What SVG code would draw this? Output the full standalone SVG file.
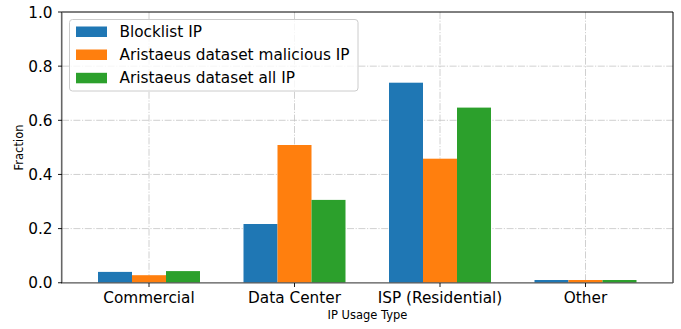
<svg xmlns="http://www.w3.org/2000/svg" width="681" height="329" viewBox="0 0 681 329">
<style>
text{font-family:"DejaVu Sans","Liberation Sans",sans-serif;fill:#000}
.tick{font-size:15.3px}
.lab{font-size:11.5px}
.grid{stroke:#c4c4c4;stroke-width:0.8;stroke-dasharray:7,1.6,1.2,1.6;fill:none}
.tk{stroke:#000;stroke-width:0.9}
.b{fill:#1f77b4}.o{fill:#ff7f0e}.g{fill:#2ca02c}
</style>
<rect width="681" height="329" fill="#fff"/>
<g id="grid">
<line class="grid" x1="149" y1="12" x2="149" y2="283"/>
<line class="grid" x1="294.5" y1="12" x2="294.5" y2="283"/>
<line class="grid" x1="440" y1="12" x2="440" y2="283"/>
<line class="grid" x1="585.5" y1="12" x2="585.5" y2="283"/>
<line class="grid" x1="62" y1="228.6" x2="673" y2="228.6"/>
<line class="grid" x1="62" y1="174.45" x2="673" y2="174.45"/>
<line class="grid" x1="62" y1="120.3" x2="673" y2="120.3"/>
<line class="grid" x1="62" y1="66.15" x2="673" y2="66.15"/>
</g>
<g id="bars">
<g id="commercial">
<rect class="b" x="98" y="271.9" width="34" height="10.85"/>
<rect class="o" x="132" y="275.2" width="34" height="7.55"/>
<rect class="g" x="166" y="271.1" width="34" height="11.65"/>
</g>
<g id="datacenter">
<rect class="b" x="243.5" y="224" width="34" height="58.75"/>
<rect class="o" x="277.5" y="145" width="34" height="137.75"/>
<rect class="g" x="311.5" y="199.9" width="34" height="82.85"/>
</g>
<g id="isp">
<rect class="b" x="389" y="82.7" width="34" height="200.05"/>
<rect class="o" x="423" y="158.7" width="34" height="124.05"/>
<rect class="g" x="457" y="107.6" width="34" height="175.15"/>
</g>
<g id="other">
<rect class="b" x="534.5" y="280" width="34" height="2.75"/>
<rect class="o" x="568.5" y="280" width="34" height="2.75"/>
<rect class="g" x="602.5" y="280" width="34" height="2.75"/>
</g>
</g>
<g id="axes">
<line x1="62" y1="12" x2="673" y2="12" stroke="#000" stroke-width="1"/>
<line x1="673" y1="12" x2="673" y2="283" stroke="#000" stroke-width="1"/>
<line x1="61.7" y1="12" x2="61.7" y2="283" stroke="#666" stroke-width="1.6"/>
<line x1="61" y1="282.9" x2="673" y2="282.9" stroke="#555" stroke-width="1.4"/>
<line class="tk" x1="58" y1="282.75" x2="62" y2="282.75"/>
<line class="tk" x1="58" y1="228.6" x2="62" y2="228.6"/>
<line class="tk" x1="58" y1="174.45" x2="62" y2="174.45"/>
<line class="tk" x1="58" y1="120.3" x2="62" y2="120.3"/>
<line class="tk" x1="58" y1="66.15" x2="62" y2="66.15"/>
<line class="tk" x1="58" y1="12" x2="62" y2="12"/>
<line class="tk" x1="149" y1="283" x2="149" y2="287"/>
<line class="tk" x1="294.5" y1="283" x2="294.5" y2="287"/>
<line class="tk" x1="440" y1="283" x2="440" y2="287"/>
<line class="tk" x1="585.5" y1="283" x2="585.5" y2="287"/>
<g class="tick" text-anchor="end">
<text x="52.5" y="288.3">0.0</text>
<text x="52.5" y="234.1">0.2</text>
<text x="52.5" y="180">0.4</text>
<text x="52.5" y="125.8">0.6</text>
<text x="52.5" y="71.7">0.8</text>
<text x="52.5" y="17.5">1.0</text>
</g>
<g class="tick" text-anchor="middle">
<text x="149" y="303">Commercial</text>
<text x="294.5" y="303">Data Center</text>
<text x="440" y="303">ISP (Residential)</text>
<text x="585.5" y="303">Other</text>
</g>
<text class="lab" x="367.5" y="318.5" text-anchor="middle">IP Usage Type</text>
<text class="lab" transform="translate(22.5,147.5) rotate(-90)" text-anchor="middle">Fraction</text>
</g>
<g id="legend">
<rect x="69.5" y="19.5" width="288.5" height="71.5" rx="3" fill="#fff" fill-opacity="0.8" stroke="#cccccc" stroke-width="1"/>
<rect class="b" x="76" y="26.5" width="31" height="10.5"/>
<rect class="o" x="76" y="49.5" width="31" height="10.5"/>
<rect class="g" x="76" y="72.8" width="31" height="10.5"/>
<g class="tick">
<text x="119.5" y="36.8">Blocklist IP</text>
<text x="119.5" y="60">Aristaeus dataset malicious IP</text>
<text x="119.5" y="83.3">Aristaeus dataset all IP</text>
</g>
</g>
</svg>
